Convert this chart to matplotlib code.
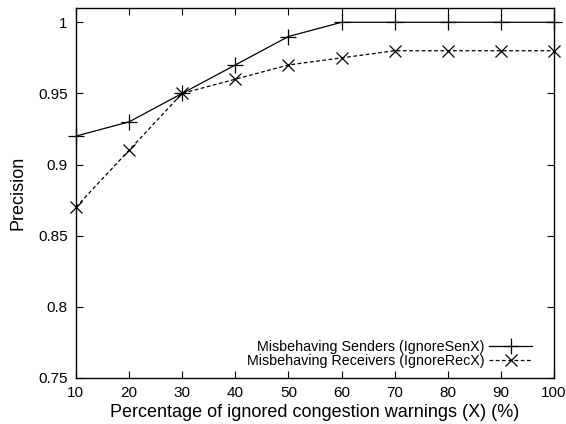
import matplotlib
matplotlib.use('Agg')
import matplotlib.pyplot as plt

plt.rcParams['font.family'] = ['Liberation Sans', 'DejaVu Sans']

# data
x_vals = [10, 20, 30, 40, 50, 60, 70, 80, 90, 100]
senders = [0.92, 0.93, 0.95, 0.97, 0.99, 1.0, 1.0, 1.0, 1.0, 1.0]
receivers = [0.87, 0.91, 0.95, 0.96, 0.97, 0.975, 0.98, 0.98, 0.98, 0.98]
y_ticks = [0.75, 0.8, 0.85, 0.9, 0.95, 1.0]
y_labels = ['0.75', '0.8', '0.85', '0.9', '0.95', '1']

fig = plt.figure(figsize=(5.66, 4.24), dpi=100)
ax = fig.add_axes([0.134, 0.1085, 0.845, 0.8725])

ax.plot(x_vals, senders, color='black', linestyle='-', linewidth=0.9,
        marker='+', markersize=11, markeredgewidth=0.9,
        label='Misbehaving Senders (IgnoreSenX)', clip_on=False)
ax.plot(x_vals, receivers, color='black', linestyle=(0, (3, 2)), linewidth=0.9,
        marker='x', markersize=9, markeredgewidth=0.9,
        label='Misbehaving Receivers (IgnoreRecX)', clip_on=False)

ax.set_xlim(10, 100)
ax.set_ylim(0.75, 1.01)
ax.set_xticks(x_vals)
ax.set_yticks(y_ticks)
ax.set_yticklabels(y_labels)
ax.tick_params(direction='in', top=True, right=True, length=5, width=0.8,
               labelsize=11, pad=6)
for s in ax.spines.values():
    s.set_linewidth(1.0)

ax.set_xlabel('Percentage of ignored congestion warnings (X) (%)', fontsize=13, labelpad=3)
ax.set_ylabel('Precision', fontsize=13, labelpad=8)

ax.legend(loc='lower right', bbox_to_anchor=(0.975, 0.0), frameon=False,
          markerfirst=False, fontsize=10.3, handlelength=3.0, handletextpad=0.3,
          labelspacing=0.0, borderaxespad=0.3)

fig.savefig('out.png', dpi=100)
